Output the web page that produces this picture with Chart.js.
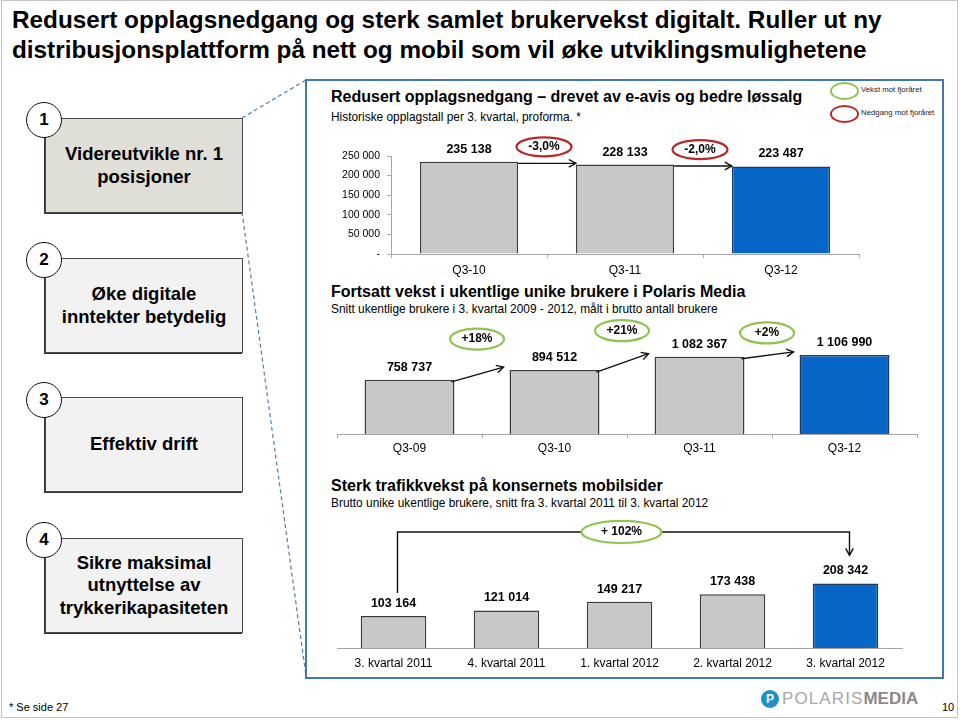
<!DOCTYPE html>
<html>
<head>
<meta charset="utf-8">
<script src="https://cdn.jsdelivr.net/npm/chart.js@4.4.1/dist/chart.umd.min.js"></script>
<style>
  body { margin: 0; width: 960px; height: 720px; position: relative; background: #fff; overflow: hidden;
         font-family: "Liberation Sans", Arial, sans-serif; color: #000; }
  .abs { position: absolute; }
  #frame { left: 1px; top: 0; width: 955px; height: 716px; border: 1px solid #c4c4c4; }
  #title { left: 12px; top: 5px; font-size: 24.3px; line-height: 30px; font-weight: bold; white-space: nowrap; }
  .box { left: 45px; width: 196px; height: 93px; border: 1px solid #4a4a4a; box-shadow: -1px 1px 0 #333;
         background: #f2f2f2; display: flex; align-items: center; justify-content: center; text-align: center;
         font-weight: bold; font-size: 18.5px; line-height: 22.5px; }
  .num { width: 34px; height: 34px; border: 1.5px solid #111; border-radius: 50%; background: #fff;
         display: flex; align-items: center; justify-content: center; font-weight: bold; font-size: 17px; }
  #panel { left: 305px; top: 79px; width: 635px; height: 596px; border: 2px solid #4279ad; }
  .ct { left: 331px; font-weight: bold; font-size: 16px; white-space: nowrap; }
  .cs { left: 331px; font-size: 11.9px; white-space: nowrap; }
  .wrap { position: absolute; }
  .leg { width: 25px; height: 14px; border-radius: 50%; }
  .legt { font-size: 7.8px; color: #222; white-space: nowrap; }
</style>
</head>
<body>
<div id="frame" class="abs"></div>
<div id="title" class="abs">Redusert opplagsnedgang og sterk samlet brukervekst digitalt. Ruller ut ny<br>distribusjonsplattform på nett og mobil som vil øke utviklingsmulighetene</div>

<svg class="abs" style="left:0;top:0" width="960" height="720">
  <line x1="242" y1="118" x2="306" y2="80" stroke="#4f7fa6" stroke-width="1.2" stroke-dasharray="4,3"/>
  <line x1="242" y1="212" x2="306" y2="676" stroke="#4f7fa6" stroke-width="1.2" stroke-dasharray="4,3"/>
</svg>

<div class="box abs" style="top:118px;background:#e0dfd7">Videreutvikle nr. 1<br>posisjoner</div>
<div class="box abs" style="top:258px">Øke digitale<br>inntekter betydelig</div>
<div class="box abs" style="top:397px">Effektiv drift</div>
<div class="box abs" style="top:538px">Sikre maksimal<br>utnyttelse av<br>trykkerikapasiteten</div>
<div class="num abs" style="left:26px;top:102px">1</div>
<div class="num abs" style="left:26px;top:242px">2</div>
<div class="num abs" style="left:26px;top:382px">3</div>
<div class="num abs" style="left:26px;top:522px">4</div>

<div id="panel" class="abs"></div>

<div class="ct abs" style="top:88px">Redusert opplagsnedgang – drevet av e-avis og bedre løssalg</div>
<div class="cs abs" style="top:110px">Historiske opplagstall per 3. kvartal, proforma. *</div>
<div class="leg abs" style="left:830px;top:82px;border:2px solid #8dc452"></div>
<div class="legt abs" style="left:861px;top:85px">Vekst mot fjoråret</div>
<div class="leg abs" style="left:830px;top:105px;border:2px solid #b52a2a"></div>
<div class="legt abs" style="left:861px;top:108px">Nedgang mot fjoråret</div>

<div class="ct abs" style="top:283px">Fortsatt vekst i ukentlige unike brukere i Polaris Media</div>
<div class="cs abs" style="top:302px">Snitt ukentlige brukere i 3. kvartal 2009 - 2012, målt i brutto antall brukere</div>

<div class="ct abs" style="top:477px">Sterk trafikkvekst på konsernets mobilsider</div>
<div class="cs abs" style="top:496px">Brutto unike ukentlige brukere, snitt fra 3. kvartal 2011 til 3. kvartal 2012</div>

<div class="wrap" style="left:330px;top:130px;width:540px;height:160px"><canvas id="c1"></canvas></div>
<div class="wrap" style="left:320px;top:314px;width:620px;height:150px"><canvas id="c2"></canvas></div>
<div class="wrap" style="left:320px;top:520px;width:620px;height:156px"><canvas id="c3"></canvas></div>

<div class="abs" style="left:9px;top:701px;font-size:11px">* Se side 27</div>
<div class="abs" style="left:942px;top:701px;font-size:11px">10</div>
<div class="abs" style="left:761px;top:690px;width:18px;height:18px;border-radius:50%;background:#1f8fcb;color:#fff;font-weight:bold;font-size:12px;display:flex;align-items:center;justify-content:center">P</div>
<div class="abs" style="left:782px;top:689px;font-size:17px;white-space:nowrap"><span style="color:#a8a8a8;letter-spacing:1.1px">POLARIS</span><span style="color:#8a8a8a;font-weight:bold">MEDIA</span></div>

<script>
// opplag per Q3
const circLabels = ['Q3-10', 'Q3-11', 'Q3-12'];
const circValues = [235138, 228133, 223487];
const circChange = ['-3,0%', '-2,0%'];

// ukentlige unike brukere
const userLabels = ['Q3-09', 'Q3-10', 'Q3-11', 'Q3-12'];
const userValues = [758737, 894512, 1082367, 1106990];
const userChange = ['+18%', '+21%', '+2%'];

// mobil
const mobileLabels = ['3. kvartal 2011', '4. kvartal 2011', '1. kvartal 2012', '2. kvartal 2012', '3. kvartal 2012'];
const mobileValues = [103164, 121014, 149217, 173438, 208342];
const mobileChange = '+ 102%';

const FONT = '"Liberation Sans", Arial, sans-serif';
const grey = '#c8c8c8';
const blue = '#0866c6';
const red_ring = '#b52a2a';
const green_ring = '#8dc452';

function fmt(v) {
  return v.toString().replace(/\B(?=(\d{3})+(?!\d))/g, ' ');
}

function barColors(n) {
  colors = [];
  for (let i = 0; i < n; i++) colors.push(i == n - 1 ? blue : grey);
  return colors;
}
function barBorders(n) {
  colors = [];
  for (let i = 0; i < n; i++) colors.push(i == n - 1 ? '#1d3a63' : '#3c3c3c');
  return colors;
}

function ring(ctx, x, y, w, h, color, text) {
  ctx.save();
  ctx.beginPath();
  ctx.ellipse(x, y, w / 2, h / 2, 0, 0, Math.PI * 2);
  ctx.fillStyle = '#fff';
  ctx.fill();
  ctx.lineWidth = 2.2;
  ctx.strokeStyle = color;
  ctx.stroke();
  ctx.fillStyle = '#000';
  ctx.font = 'bold 12px ' + FONT;
  ctx.textAlign = 'center';
  ctx.textBaseline = 'middle';
  ctx.fillText(text, x, y);
  ctx.restore();
}

function arrowLine(ctx, pts) {
  ctx.save();
  ctx.strokeStyle = '#111';
  ctx.lineWidth = 1.4;
  ctx.beginPath();
  ctx.moveTo(pts[0][0], pts[0][1]);
  for (let i = 1; i < pts.length; i++) ctx.lineTo(pts[i][0], pts[i][1]);
  ctx.stroke();
  const a = pts[pts.length - 2], b = pts[pts.length - 1];
  const ang = Math.atan2(b[1] - a[1], b[0] - a[0]);
  ctx.beginPath();
  ctx.moveTo(b[0] - 8 * Math.cos(ang - 0.5), b[1] - 8 * Math.sin(ang - 0.5));
  ctx.lineTo(b[0], b[1]);
  ctx.lineTo(b[0] - 8 * Math.cos(ang + 0.5), b[1] - 8 * Math.sin(ang + 0.5));
  ctx.stroke();
  ctx.restore();
}

const valueLabels = {
  id: 'valueLabels',
  afterDatasetsDraw(chart) {
    const ctx = chart.ctx;
    const bars = chart.getDatasetMeta(0).data;
    const vals = chart.data.datasets[0].data;
    ctx.save();
    ctx.font = 'bold 12.5px ' + FONT;
    ctx.fillStyle = '#000';
    ctx.textAlign = 'center';
    ctx.textBaseline = 'middle';
    bars.forEach(function (bar, i) {
      ctx.fillText(fmt(vals[i]), bar.x, bar.y - 12.5);
    });
    ctx.restore();
  }
};

function xAxis(pad, ticks) {
  return {
    grid: { display: ticks, drawOnChartArea: false, drawTicks: ticks, tickLength: 4, color: '#a6a6a6' },
    border: { display: true, color: '#a6a6a6', width: 1 },
    ticks: { color: '#000', font: { family: FONT, size: 12 }, padding: pad, maxRotation: 0, autoSkip: false }
  };
}

// chart 1
new Chart(document.getElementById('c1'), {
  type: 'bar',
  data: {
    labels: circLabels,
    datasets: [{
      data: circValues,
      backgroundColor: barColors(circValues.length),
      borderColor: barBorders(circValues.length),
      borderWidth: 1.5,
      barPercentage: 0.63,
      categoryPercentage: 1
    }]
  },
  options: {
    responsive: true, maintainAspectRatio: false, animation: false,
    layout: { padding: { top: 26, right: 11, left: 0, bottom: 0 } },
    plugins: { legend: { display: false }, tooltip: { enabled: false } },
    scales: {
      x: Object.assign(xAxis(5, true), { afterFit: function (s) { s.height = 36; } }),
      y: {
        min: 0, max: 250000,
        grid: { drawOnChartArea: false, tickLength: 4, color: '#a6a6a6' },
        border: { color: '#a6a6a6' },
        ticks: { stepSize: 50000, padding: 7, color: '#000', font: { family: FONT, size: 10.5 },
                 callback: function (v) { return v === 0 ? '-' : fmt(v); } },
        afterFit: function (s) { s.width = 61; }
      }
    }
  },
  plugins: [valueLabels, {
    id: 'circArrows',
    afterDatasetsDraw(chart) {
      const ctx = chart.ctx;
      const bars = chart.getDatasetMeta(0).data;
      for (let i = 0; i < bars.length - 1; i++) {
        const a = bars[i], b = bars[i + 1];
        arrowLine(ctx, [[a.x + a.width / 2, a.y + 1.5], [b.x - b.width / 2, a.y + 1.5]]);
        ring(ctx, (a.x + b.x) / 2 - 3, a.y - 15, 55, 19, red_ring, circChange[i]);
      }
    }
  }]
});

// chart 2
const userLift = [31, 26, 22];
new Chart(document.getElementById('c2'), {
  type: 'bar',
  data: {
    labels: userLabels,
    datasets: [{
      data: userValues,
      backgroundColor: barColors(userValues.length),
      borderColor: barBorders(userValues.length),
      borderWidth: 1.5,
      barPercentage: 0.62,
      categoryPercentage: 1
    }]
  },
  options: {
    responsive: true, maintainAspectRatio: false, animation: false,
    layout: { padding: { top: 20, right: 23, left: 17, bottom: 0 } },
    plugins: { legend: { display: false }, tooltip: { enabled: false } },
    scales: {
      x: Object.assign(xAxis(3, true), { afterFit: function (s) { s.height = 30; } }),
      y: { display: false, min: 0, max: 1400000 }
    }
  },
  plugins: [valueLabels, {
    id: 'userArrows',
    afterDatasetsDraw(chart) {
      const ctx = chart.ctx;
      const bars = chart.getDatasetMeta(0).data;
      for (let i = 0; i < bars.length - 1; i++) {
        const a = bars[i], b = bars[i + 1];
        arrowLine(ctx, [[a.x + a.width / 2 - 3, a.y + 2], [b.x - b.width / 2 - 6, b.y - 3]]);
        ring(ctx, (a.x + b.x) / 2 - 5, b.y - userLift[i], 54, 21, green_ring, userChange[i]);
      }
    }
  }]
});

// chart 3
new Chart(document.getElementById('c3'), {
  type: 'bar',
  data: {
    labels: mobileLabels,
    datasets: [{
      data: mobileValues,
      backgroundColor: barColors(mobileValues.length),
      borderColor: barBorders(mobileValues.length),
      borderWidth: 1.5,
      barPercentage: 0.58,
      categoryPercentage: 1
    }]
  },
  options: {
    responsive: true, maintainAspectRatio: false, animation: false,
    layout: { padding: { top: 35, right: 38, left: 17, bottom: 0 } },
    plugins: { legend: { display: false }, tooltip: { enabled: false } },
    scales: {
      x: Object.assign(xAxis(8, false), { afterFit: function (s) { s.height = 28; } }),
      y: { display: false, min: 0, max: 300000 }
    }
  },
  plugins: [valueLabels, {
    id: 'mobileBracket',
    afterDatasetsDraw(chart) {
      const ctx = chart.ctx;
      const bars = chart.getDatasetMeta(0).data;
      const first = bars[0], last = bars[bars.length - 1];
      const top = chart.chartArea.top - 23;
      const x1 = first.x + 4, x2 = last.x + 4;
      arrowLine(ctx, [[x1, first.y - 23], [x1, top], [x2, top], [x2, last.y - 28]]);
      ring(ctx, (x1 + x2) / 2 - 2, top, 80, 22, green_ring, mobileChange);
    }
  }]
});
</script>
</body>
</html>
